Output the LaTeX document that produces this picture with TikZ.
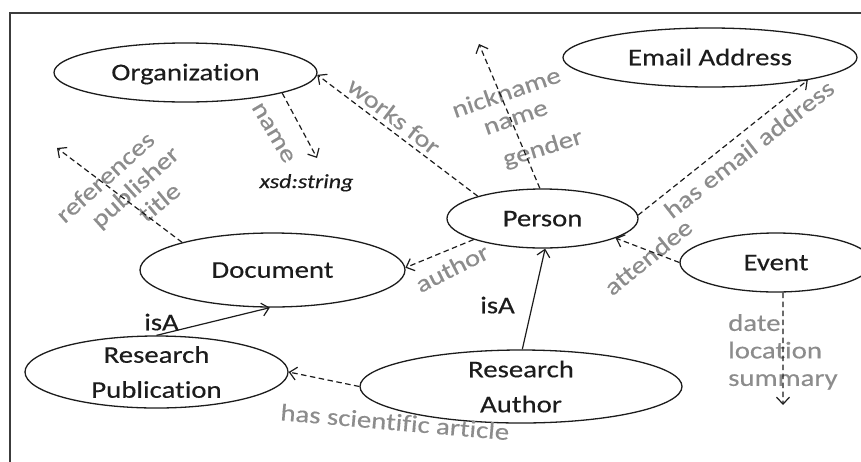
\documentclass[tikz,border=0pt]{standalone}
\usepackage{fontspec}
\setmainfont[FakeStretch=1.2, FakeBold=0.35, Ligatures=NoCommon]{Carlito}
\usetikzlibrary{shapes.geometric,arrows.meta}
\definecolor{ink}{RGB}{28,28,28}
\definecolor{lblgray}{RGB}{140,140,140}
\definecolor{framegray}{RGB}{60,60,60}
\tikzset{
  cls/.style={ellipse, draw=ink, line width=1.3pt, inner sep=-4pt, text=ink,
              font=\fontsize{24}{35}\selectfont},
  oneline/.style={text height=15.5pt, text depth=0pt},
  prop/.style={text=lblgray, inner sep=0pt, font=\fontsize{24}{27.5}\selectfont},
  isalbl/.style={text=ink, inner sep=0pt, text height=15.5pt, text depth=0pt,
                 font=\fontsize{24}{28}\selectfont},
  barb/.style={-{Straight Barb[length=7pt,width=13pt]}},
  rel/.style={draw=ink, line width=1.2pt, dash pattern=on 5.5pt off 3.5pt, barb},
  sub/.style={draw=ink, line width=1.2pt, barb},
}
\begin{document}
\begin{tikzpicture}[x=1pt,y=-1pt]
\useasboundingbox (0,0) rectangle (861,461);

% outer frame (open to the right and bottom)
\draw[framegray, line width=1.5pt] (10,480) -- (10,13) -- (880,13);

% classes
\node[cls, oneline, minimum width=263pt, minimum height=59pt] (org)    at (185.5,72.5) {Organization};
\node[cls, oneline, minimum width=294pt, minimum height=59pt] (email)  at (710,57.5)   {Email Address};
\node[cls, oneline, minimum width=191pt, minimum height=59pt] (person) at (542.5,218.5) {Person};
\node[cls, oneline, minimum width=265pt, minimum height=74pt] (doc)    at (272.5,270)  {Document};
\node[cls, align=center, minimum width=263pt, minimum height=72pt] (pub)     at (156.5,372) {Research\\Publication};
\node[cls, align=center, minimum width=322pt, minimum height=73pt] (rauthor) at (521,386.5) {Research\\Author};
\node[cls, oneline, minimum width=192pt, minimum height=59pt] (event)  at (776,262.5)  {Event};

% literal value
\node[text=ink, inner sep=0pt, anchor=base, font=\fontsize{20}{24}\selectfont\itshape] (xsd) at (306.5,188) {xsd:string};

% free ends of open properties
\coordinate (xsdtip)  at (317,158);
\coordinate (reftip)  at (57,148);
\coordinate (nicktip) at (479,44);
\coordinate (evtip)   at (783,405);

% property labels
\node[prop, rotate=-37.5] (lworks)  at (394,116)   {works for};
\node[prop, rotate=-59.5] (lname)   at (273,133)   {name};
\node[prop, rotate=42]    (lref)    at (105,177)   {references};
\node[prop, rotate=42]    (lpubl)   at (136,188)   {publisher};
\node[prop, rotate=40]    (ltitle)  at (159,202)   {title};
\node[prop, rotate=19]    (lnick)   at (506,92)    {nickname};
\node[prop, rotate=19]    (lpname)  at (516,119)   {name};
\node[prop, rotate=17]    (lgender) at (543,149)   {gender};
\node[prop, rotate=38]    (lemail)  at (749,149)   {has email address};
\node[prop, rotate=39]    (latt)    at (648,257)   {attendee};
\node[prop, rotate=27]    (lauth)   at (452,268)   {author};
\node[prop, rotate=-5]    (lsci)    at (395,422)   {has scientific article};
\node[prop, align=left, anchor=north west] (levent) at (728,314) {date\\location\\summary};
\node[isalbl] (lisa1) at (161.5,322.5) {isA};
\node[isalbl] (lisa2) at (497.5,305.5) {isA};

% properties
\draw[rel] (person.161)   -- (org.-1);
\draw[rel] (org.-12.5)    -- (xsdtip);
\draw[rel] (doc.163)      -- (reftip);
\draw[rel] (person.95)    -- (nicktip);
\draw[rel] (person.2)     -- (email.-13);
\draw[rel] (event.180)    -- (person.-15.5);
\draw[rel] (person.-163)  -- (doc.1);
\draw[rel] (rauthor.180)  -- (pub.0);
\draw[rel] (event.-77)    -- (evtip);

% subclass links
\draw[sub] (rauthor.88) -- (person.-85);
\draw[sub] (pub.90)     -- (doc.-94);
\end{tikzpicture}
\end{document}
